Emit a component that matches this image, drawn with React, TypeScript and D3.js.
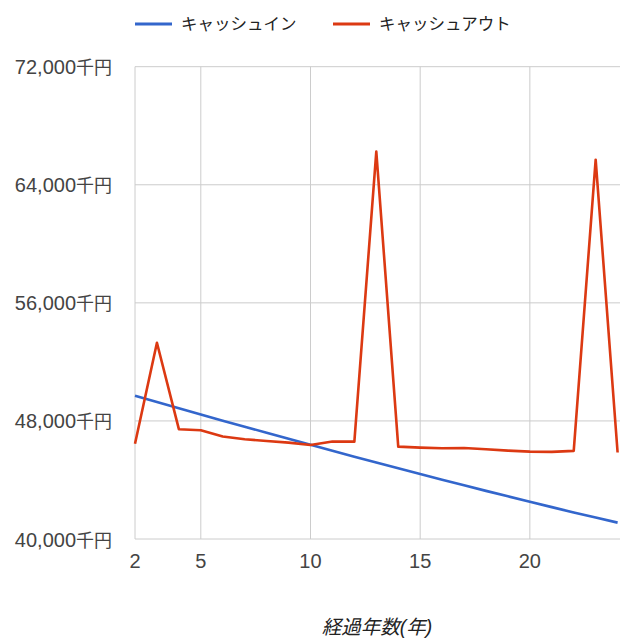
import * as d3 from "d3"

const years = [2, 3, 4, 5, 6, 7, 8, 9, 10, 11, 12, 13, 14, 15, 16, 17, 18, 19, 20, 21, 22, 23, 24]
const cashIn = [49700, 49280, 48860, 48440, 48020, 47610, 47200, 46790, 46380, 45980, 45580, 45180, 44790, 44400, 44020, 43640, 43260, 42890, 42520, 42160, 41800, 41450, 41110]
const cashOut = [46450, 53300, 47440, 47370, 46940, 46760, 46640, 46530, 46370, 46600, 46600, 66250, 46260, 46190, 46150, 46170, 46080, 45990, 45920, 45900, 45970, 65700, 45860]
const yTicks = [40000, 48000, 56000, 64000, 72000]
const xTicks = [2, 5, 10, 15, 20]
const seriesNames = ["キャッシュイン", "キャッシュアウト"]
const colors = ["#3366cc", "#dc3912"]

const W = 620, H = 641
const FONT = "'Liberation Sans', Arial, 'Noto Sans CJK JP', sans-serif"

export default function App() {
  const x = d3.scaleLinear().domain([2, 24]).range([135, 617.6])
  const y = d3.scaleLinear().domain([40000, 72000]).range([539, 66.7])
  const line = d3.line<number>().x((_, i) => x(years[i])).y(d => y(d))
  const fmt = d3.format(",")

  return (
    <svg width={W} height={H} style={{ position: "absolute", left: 0, top: 0, background: "#fff" }} fontFamily={FONT}>
      {/* legend */}
      {seriesNames.map((n, i) => {
        const lx = i === 0 ? 135 : 333
        return (
          <g key={n}>
            <line x1={lx} x2={lx + 37} y1={24} y2={24} stroke={colors[i]} strokeWidth={3} />
            <text x={lx + 46} y={30} fontSize={16.5} fill="#222">{n}</text>
          </g>
        )
      })}

      {/* grid */}
      {yTicks.map(t => (
        <g key={t}>
          <line x1={135} x2={W} y1={y(t)} y2={y(t)} stroke="#cccccc" strokeWidth={1} />
          <text x={112} y={y(t) + 7.5} textAnchor="end" fill="#444">
            <tspan fontSize={20}>{fmt(t)}</tspan>
            <tspan fontSize={18}>千円</tspan>
          </text>
        </g>
      ))}
      {xTicks.map(t => (
        <g key={t}>
          <line x1={x(t)} x2={x(t)} y1={y(72000)} y2={y(40000)} stroke="#cccccc" strokeWidth={1} />
          <text x={x(t)} y={568} textAnchor="middle" fontSize={20} fill="#444">{t}</text>
        </g>
      ))}

      {/* series */}
      {[cashIn, cashOut].map((s, i) => (
        <path key={i} d={line(s) || ""} fill="none" stroke={colors[i]} strokeWidth={2.6} strokeLinejoin="round" />
      ))}

      <text x={377} y={634} textAnchor="middle" fontSize={19.5} fontStyle="italic" fill="#222">経過年数(年)</text>
    </svg>
  )
}
